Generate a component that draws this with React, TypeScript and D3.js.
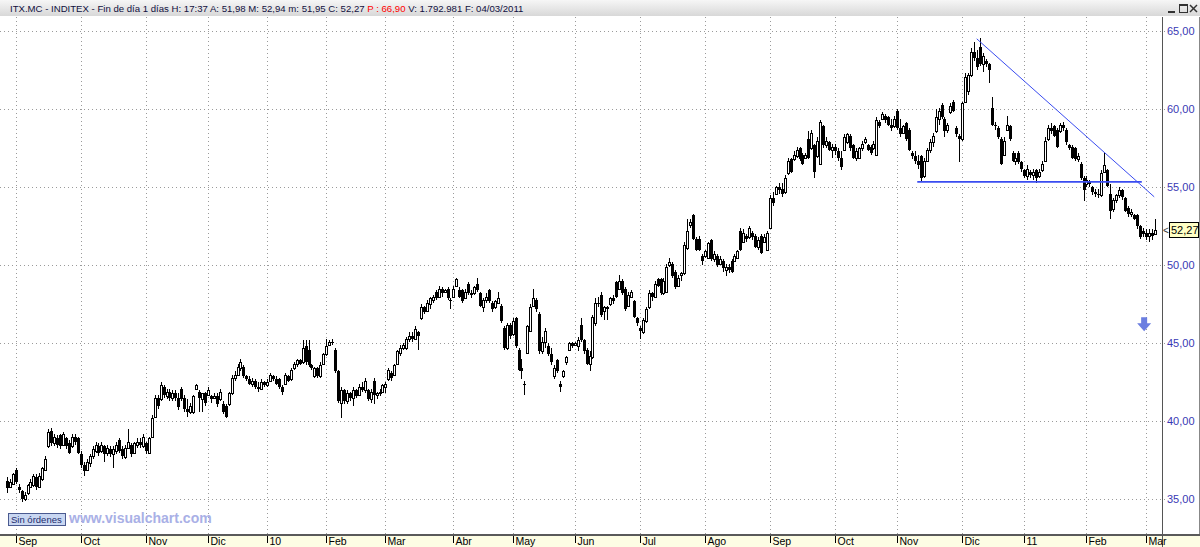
import React from "react";
import * as d3 from "d3";

// Daily bars [open, high, low, close], ITX.MC late Aug 2009 – 4 Mar 2011
const BARS: [number, number, number, number][] = [
  [36.2,36.4,35.4,35.7],[35.8,36.3,35.7,36.1],[36.0,36.7,35.9,36.6],[36.9,37.0,36.0,36.1],[35.8,36.0,35.4,35.6],
  [35.5,35.6,34.8,35.0],[35.0,35.5,34.9,35.3],[35.4,36.0,35.3,35.9],[35.8,36.3,35.7,36.1],[35.9,36.6,35.8,36.5],
  [36.4,36.6,35.6,35.8],[35.8,36.7,35.7,36.5],[36.3,37.1,36.2,37.0],[36.9,37.8,36.8,37.6],[38.4,39.5,38.3,39.3],
  [39.4,39.6,38.4,38.6],[38.6,39.2,38.4,39.0],[38.9,39.1,38.3,38.5],[39.1,39.2,38.2,38.4],[38.5,39.3,38.4,39.2],
  [38.9,39.0,38.2,38.4],[38.6,38.8,37.9,38.0],[38.4,39.2,38.3,39.0],[39.0,39.2,38.5,38.7],[38.9,39.0,37.9,38.0],
  [37.9,38.1,37.0,37.2],[37.2,37.4,36.5,36.8],[36.9,37.6,36.8,37.4],[37.3,37.9,37.1,37.8],[37.8,38.4,37.6,38.2],
  [38.1,38.7,38.0,38.5],[38.4,38.6,37.8,38.0],[38.1,38.7,38.0,38.5],[38.4,38.5,37.4,37.9],[38.0,38.5,37.8,38.3],
  [38.2,38.4,37.7,37.9],[37.9,38.4,37.0,38.2],[38.1,38.7,37.9,38.5],[38.8,38.9,38.0,38.1],[38.2,38.4,37.6,37.8],
  [37.7,38.5,37.6,38.3],[38.3,39.5,38.2,38.7],[38.5,38.6,37.7,37.9],[38.0,38.7,37.9,38.6],[38.5,38.9,38.3,38.7],
  [38.7,38.9,38.3,38.5],[38.4,39.2,38.3,39.0],[38.6,38.7,37.9,38.1],[38.0,39.0,37.9,38.9],[39.0,40.4,38.9,40.2],
  [40.3,41.7,40.2,41.5],[41.5,41.7,40.8,41.0],[41.4,42.5,41.3,42.3],[42.2,42.3,41.5,41.7],[41.6,42.1,41.4,41.9],
  [41.9,42.1,41.3,41.5],[41.5,42.0,41.3,41.8],[41.8,42.0,41.3,41.5],[41.5,41.8,40.7,40.9],[42.1,42.2,41.3,41.4],
  [41.5,41.7,40.6,40.8],[40.8,41.4,40.3,40.6],[40.6,41.2,40.5,41.0],[40.6,41.7,40.5,41.6],[42.1,42.4,42.0,42.3],
  [41.9,42.0,40.6,41.5],[41.4,41.8,40.6,41.8],[41.8,41.9,41.0,41.2],[41.7,42.2,41.6,42.0],[41.6,41.7,41.2,41.4],
  [41.5,41.8,41.4,41.6],[41.6,41.8,40.9,41.1],[41.4,42.1,41.3,41.9],[41.1,41.3,40.5,40.6],[41.0,41.1,40.2,40.3],
  [41.1,41.9,41.0,41.8],[41.8,43.0,41.7,42.8],[42.8,43.2,42.6,43.0],[43.0,43.7,42.9,43.5],[43.4,44.0,43.2,43.8],
  [43.5,43.6,42.8,42.9],[42.9,43.0,42.6,42.7],[42.7,42.9,42.3,42.4],[42.4,42.8,42.2,42.6],[42.6,42.7,42.1,42.2],
  [42.2,42.5,41.9,42.1],[42.1,42.7,42.0,42.5],[42.5,42.6,42.2,42.3],[42.3,42.7,42.2,42.5],[42.6,43.1,42.5,43.0],
  [42.9,43.0,42.6,42.7],[42.7,42.9,42.3,42.4],[42.7,42.8,42.1,42.2],[42.2,42.3,41.7,41.9],[42.4,43.1,42.3,43.0],
  [42.9,43.0,42.5,42.6],[42.7,43.4,42.6,43.3],[43.4,43.8,43.3,43.7],[43.7,44.0,43.5,43.9],[43.9,44.0,43.6,43.7],
  [43.8,45.2,43.7,44.7],[44.8,45.2,43.6,43.8],[44.6,45.2,43.5,43.6],[43.6,43.7,43.3,43.4],[42.9,43.5,42.8,43.4],
  [43.4,43.5,42.8,42.9],[42.9,43.8,42.8,43.6],[43.7,44.4,43.6,44.3],[44.3,45.3,44.2,44.8],[44.9,45.2,44.8,45.1],
  [45.1,45.3,44.9,45.0],[44.6,44.7,43.1,43.2],[43.2,43.3,41.2,41.3],[41.2,42.2,40.2,42.0],[42.0,42.1,41.1,41.3],
  [41.3,42.0,41.1,41.8],[41.8,41.9,41.3,41.5],[41.5,42.2,41.0,42.0],[42.0,42.1,41.5,41.6],[41.7,42.4,41.6,42.2],
  [42.2,42.5,41.9,42.0],[42.0,42.8,41.8,42.6],[42.0,42.1,41.3,41.4],[41.4,42.1,41.2,41.9],[42.6,42.8,41.1,41.7],
  [41.7,41.9,41.4,41.8],[41.8,42.1,41.6,41.9],[41.9,42.4,41.9,42.3],[42.2,42.5,41.8,42.4],[42.7,43.4,42.6,43.3],
  [43.1,43.2,42.6,42.8],[43.0,43.7,42.9,43.6],[43.7,44.6,43.6,44.5],[44.4,44.9,44.2,44.7],[44.7,45.0,44.6,44.9],
  [44.7,45.4,44.6,45.3],[45.3,45.7,45.1,45.5],[45.5,45.7,45.1,45.3],[45.3,46.1,45.2,45.9],[45.7,45.8,44.6,45.5],
  [46.6,47.5,46.5,47.3],[47.3,47.4,46.9,47.0],[47.1,47.8,47.0,47.6],[47.5,48.0,47.2,47.9],[47.8,48.1,47.6,48.0],
  [48.3,48.4,47.8,47.9],[48.0,48.7,47.9,48.5],[48.5,48.6,48.0,48.2],[48.3,48.5,48.2,48.4],[48.5,48.6,47.8,47.9],
  [47.8,47.9,47.2,47.7],[48.0,48.7,47.9,48.5],[48.7,49.2,48.6,49.1],[48.4,48.6,47.9,48.0],[48.4,48.5,47.6,47.7],
  [47.9,48.5,47.9,48.3],[48.8,48.9,48.1,48.2],[48.2,48.4,47.9,48.1],[48.2,48.7,48.1,48.6],[48.8,49.2,48.3,48.4],
  [48.2,48.3,47.3,47.4],[47.3,47.9,47.0,47.8],[47.8,48.2,47.6,48.0],[48.4,48.5,47.6,47.7],[47.6,47.7,47.0,47.2],
  [47.3,47.8,47.2,47.7],[47.6,48.3,47.5,47.9],[47.4,47.5,46.3,46.4],[46.0,46.1,44.6,44.7],[44.7,46.3,44.6,46.2],
  [46.2,46.3,45.3,45.5],[45.6,46.6,45.5,46.4],[46.6,46.7,44.7,44.8],[44.6,44.7,43.2,43.3],[43.4,44.0,42.7,43.2],
  [42.4,42.6,41.7,42.3],[44.4,46.2,44.3,46.1],[45.8,47.5,45.7,47.3],[47.4,48.5,47.3,47.9],[47.8,47.9,47.0,47.2],
  [46.9,47.0,44.3,44.5],[44.5,45.4,44.3,45.1],[45.1,46.0,44.7,45.8],[44.8,45.0,44.2,44.3],[44.3,44.7,43.6,43.8],
  [42.9,43.6,42.7,43.4],[43.9,44.0,43.1,43.2],[42.4,42.6,41.9,42.2],[42.9,43.3,42.8,43.2],[43.8,44.2,43.6,44.1],
  [44.6,45.1,44.5,45.0],[45.0,45.1,44.7,44.8],[44.9,45.1,44.8,45.0],[44.8,45.4,44.5,45.2],[46.2,46.6,45.1,45.2],
  [45.2,45.3,44.3,44.5],[44.6,44.7,43.6,43.7],[43.7,44.5,43.2,44.2],[44.1,46.8,44.0,46.7],[46.3,47.9,46.1,47.6],
  [47.6,48.0,47.3,47.5],[48.1,48.3,46.7,46.8],[47.1,47.4,46.5,47.3],[47.3,47.4,46.5,47.2],[47.5,48.0,47.4,47.9],
  [47.9,48.1,47.5,47.7],[48.9,49.0,47.9,48.0],[48.5,49.4,48.4,49.0],[49.0,49.1,48.1,48.2],[48.5,48.6,47.1,47.2],
  [47.4,48.3,47.3,48.1],[48.0,48.4,47.9,48.3],[47.7,47.8,46.6,46.7],[46.6,46.7,46.1,46.3],[46.0,46.1,45.3,45.8],
  [45.7,46.6,45.6,46.5],[46.4,47.3,46.3,47.2],[47.3,48.4,47.2,48.2],[48.2,48.3,47.7,48.0],[48.0,49.0,47.9,48.8],
  [49.1,49.2,48.6,48.7],[49.1,49.2,48.1,48.2],[48.2,49.2,48.1,49.0],[48.3,50.1,48.2,49.9],[50.0,50.5,49.9,50.2],
  [50.1,50.2,49.2,49.3],[49.6,49.7,48.5,48.6],[48.7,49.4,48.6,49.2],[49.4,49.6,49.0,49.5],[49.5,51.5,49.4,51.3],
  [51.1,53.0,51.0,52.2],[52.6,53.0,52.4,52.8],[53.2,53.3,51.6,51.7],[51.7,51.8,50.9,51.0],[51.7,51.9,50.9,51.0],
  [50.6,50.7,50.0,50.3],[50.6,51.0,50.5,50.9],[50.5,51.5,50.4,51.4],[51.6,51.7,50.3,50.4],[50.4,50.9,50.2,50.7],
  [50.6,50.7,49.9,50.0],[50.1,50.6,50.0,50.4],[50.3,50.4,49.6,49.8],[49.7,50.1,49.3,49.9],[49.9,50.1,49.5,49.7],
  [50.3,50.4,49.5,49.6],[50.3,50.7,50.2,50.6],[50.5,51.0,50.4,50.9],[52.2,52.4,50.9,51.0],[51.5,52.3,51.4,52.1],
  [51.9,52.0,51.5,51.7],[51.8,52.5,51.7,52.4],[52.1,52.2,51.6,51.8],[51.9,52.0,51.1,51.2],[51.2,51.8,51.0,51.6],
  [51.9,52.0,50.7,50.8],[51.5,52.0,51.4,51.8],[51.0,52.2,50.9,52.1],[52.4,54.5,52.3,54.3],[54.3,54.7,53.8,54.0],
  [54.6,55.1,54.5,55.0],[55.0,55.3,54.6,54.8],[54.9,55.3,54.4,54.6],[54.7,55.8,54.6,55.6],[55.9,56.9,55.8,56.7],
  [56.8,56.9,55.9,56.0],[56.8,57.3,56.7,57.1],[57.0,57.6,56.9,57.4],[57.5,57.6,56.7,56.8],[57.1,57.2,56.4,56.5],
  [56.9,57.2,56.8,57.1],[58.1,58.6,56.8,56.9],[57.5,58.7,57.4,58.5],[57.7,57.8,55.6,56.0],[57.0,58.2,56.9,58.0],
  [56.5,59.3,56.4,59.2],[58.9,59.0,57.5,57.7],[57.7,58.2,57.5,58.0],[57.9,58.0,57.3,57.4],[57.4,57.8,56.9,57.6],
  [57.6,57.8,57.1,57.3],[57.3,57.5,56.7,56.9],[56.9,57.3,56.1,56.3],[57.4,58.4,57.3,58.2],[57.9,58.5,57.8,58.4],
  [58.3,58.4,57.3,57.5],[57.7,57.8,56.8,56.9],[56.9,57.5,56.7,57.3],[56.9,57.6,56.8,57.5],[57.5,58.0,57.3,57.8],
  [57.9,58.2,57.8,58.1],[57.7,57.8,57.3,57.4],[57.6,57.7,57.1,57.2],[57.5,58.0,57.4,57.8],[57.1,59.5,57.0,59.3],
  [59.2,59.3,58.8,58.9],[59.4,59.8,59.3,59.7],[59.6,59.7,59.1,59.3],[59.5,59.6,58.9,59.0],[59.0,59.4,58.6,58.8],
  [58.9,59.6,58.8,59.4],[59.9,60.0,58.7,58.8],[58.8,59.4,58.2,58.4],[58.5,59.0,58.4,58.9],[59.1,59.2,58.0,58.1],
  [58.7,58.8,57.3,57.4],[57.2,57.3,56.8,57.0],[57.0,57.3,56.5,56.7],[56.7,57.1,56.2,56.4],[57.0,57.1,55.4,55.6],
  [55.7,56.9,55.6,56.7],[56.7,57.5,56.6,57.4],[57.4,58.1,57.2,57.9],[57.9,58.5,57.6,58.3],[58.6,60.0,58.5,59.5],
  [59.4,60.1,59.0,59.9],[60.3,60.4,59.4,59.5],[59.4,59.5,58.2,58.6],[58.7,59.1,58.5,59.0],[59.8,60.4,59.7,60.2],
  [60.5,60.6,59.8,59.9],[58.8,58.9,58.2,58.4],[58.3,58.4,56.6,58.1],[58.1,60.5,58.0,60.4],[60.5,62.3,60.4,62.1],
  [61.2,62.3,60.9,62.2],[62.2,63.9,62.1,63.7],[63.7,64.3,63.1,63.3],[63.3,63.8,62.5,62.7],[64.0,64.6,62.8,62.9],
  [62.9,63.6,62.4,63.4],[63.1,63.2,62.7,62.9],[62.9,63.0,61.7,62.5],[60.1,60.8,58.9,59.0],[59.0,59.2,58.7,58.9],
  [58.8,58.9,58.1,58.2],[58.1,58.2,56.4,56.5],[57.1,58.2,57.0,58.0],[58.7,59.6,58.6,59.0],[58.9,59.0,58.0,58.1],
  [57.2,57.3,56.6,56.7],[56.7,57.2,56.4,56.9],[57.2,57.3,56.5,56.6],[56.6,56.7,56.0,56.2],[56.1,56.2,55.6,55.7],
  [55.7,56.4,55.5,56.2],[56.0,56.1,55.6,55.8],[55.8,56.2,55.5,56.0],[56.1,56.2,55.3,55.6],[55.7,56.2,55.6,56.0],
  [56.1,56.7,56.0,56.5],[56.7,58.2,56.6,58.0],[58.1,59.0,58.0,58.8],[58.8,59.1,58.4,58.6],[58.9,59.0,58.2,58.3],
  [58.7,58.8,57.5,57.6],[58.6,59.1,58.5,59.0],[59.0,59.2,58.6,58.8],[58.7,58.8,57.7,57.9],[57.7,57.8,57.4,57.5],
  [57.6,57.7,56.8,56.9],[57.5,57.6,56.7,56.8],[56.8,57.2,56.6,57.0],[56.5,56.6,55.5,55.6],[55.6,55.7,54.1,54.8],
  [55.2,55.7,55.0,55.5],[55.4,55.5,55.0,55.2],[55.0,55.1,54.5,54.7],[54.7,54.9,54.4,54.6],[54.6,54.9,54.3,54.5],
  [54.5,56.1,54.4,55.9],[56.0,57.2,55.9,56.4],[56.1,56.2,55.0,55.1],[54.6,55.2,53.0,53.5],[53.6,54.3,53.4,54.2],
  [54.2,54.6,54.0,54.5],[54.5,55.0,54.3,54.8],[54.8,54.9,54.2,54.4],[54.3,54.4,53.4,53.5],[53.7,53.8,53.1,53.3],
  [53.3,53.6,53.1,53.4],[53.2,53.3,52.9,53.0],[53.2,53.3,52.3,52.5],[52.5,52.6,51.7,51.8],[52.2,52.4,51.8,52.0],
  [52.1,52.3,51.6,51.8],[51.9,52.3,51.5,52.1],[52.1,52.3,51.6,51.9],[51.98,52.94,51.95,52.27],
];

// Bars before the first month label (late August 2009)
const LEAD_BARS = 3;
const MONTH_LABELS = ["Sep","Oct","Nov","Dic","10","Feb","Mar","Abr","May","Jun","Jul","Ago","Sep","Oct","Nov","Dic","11","Feb","Mar"];
const MONTH_BARS = [22,22,21,20,20,20,23,20,21,22,22,22,22,21,22,21,21,20,4];
const PRICE_TICKS = [35, 40, 45, 50, 55, 60, 65];

// Drawn lines: [bar index, price]
const TREND_LINE: [number, number][] = [[327.9, 64.52], [387.9, 54.39]];
const SUPPORT_LINE: [number, number][] = [[307.8, 55.35], [383.7, 55.35]];
const ARROW_AT: [number, number] = [384.5, 46.1];

const LAST_PRICE = 52.27;
const HEADER_TEXT = [
  "ITX.MC - INDITEX - Fin de día 1 días H: 17:37 A: 51,98 M: 52,94 m: 51,95 C: 52,27 ",
  "P : 66,90",
  " V: 1.792.981 F: 04/03/2011",
];
const HEADER_COLORS = ["#101040", "#ff0000", "#101040"];

const fmt = (v: number) => v.toFixed(2).replace(".", ",");

export default function App() {
  const W = 1200, H = 547;
  const plotRight = 1162;
  const plotTop = 17;
  const axisY = 535;
  const x = d3.scaleLinear().domain([0, BARS.length - 1]).range([6.8, 1154.5]);
  const y = d3.scaleLinear().domain([35, 65]).range([499.3, 31.3]);

  const monthStarts: number[] = [];
  let acc = LEAD_BARS;
  MONTH_BARS.forEach((n) => { monthStarts.push(acc); acc += n; });

  const font = "'Liberation Sans', Arial, sans-serif";
  const line = d3.line<[number, number]>().x((d) => x(d[0])).y((d) => y(d[1]));

  const ax = x(ARROW_AT[0]);
  const ay = y(ARROW_AT[1]);

  return (
    <svg width={W} height={H} style={{ position: "fixed", left: 0, top: 0, background: "#fff" }} fontFamily={font}>
      <defs>
        <linearGradient id="hdr" x1="0" y1="0" x2="0" y2="1">
          <stop offset="0" stopColor="#f6f6f6" />
          <stop offset="1" stopColor="#d8d8d8" />
        </linearGradient>
      </defs>
      <rect x={0} y={0} width={W} height={H} fill="#ffffff" />
      {/* header */}
      <rect x={0} y={0} width={W} height={16} fill="url(#hdr)" />
      <text x={10} y={12} fontSize={9.6} style={{ whiteSpace: "pre" }}>
        {HEADER_TEXT.map((t, i) => (
          <tspan key={i} fill={HEADER_COLORS[i]}>{t}</tspan>
        ))}
      </text>
      {/* window buttons */}
      <g stroke="#333" strokeWidth={1} fill="none" shapeRendering="crispEdges">
        <line x1={1168} y1={12} x2={1175} y2={12} strokeWidth={2} />
        <rect x={1179.5} y={4.5} width={8} height={8} />
        <line x1={1179.5} y1={5.5} x2={1187.5} y2={5.5} />
      </g>
      <g stroke="#333" strokeWidth={1.5} fill="none">
        <line x1={1190} y1={5} x2={1197} y2={12} />
        <line x1={1197} y1={5} x2={1190} y2={12} />
      </g>

      {/* grid */}
      <g stroke="#9a9a9a" strokeWidth={1} strokeDasharray="1,3" shapeRendering="crispEdges">
        {PRICE_TICKS.map((v) => (
          <line key={"h" + v} x1={0} x2={plotRight + 6} y1={Math.round(y(v)) + 0.5} y2={Math.round(y(v)) + 0.5} />
        ))}
        {monthStarts.map((b, i) => (
          <line key={"v" + i} x1={Math.round(x(b)) + 0.5} x2={Math.round(x(b)) + 0.5} y1={plotTop} y2={axisY} />
        ))}
      </g>

      {/* candles */}
      <g shapeRendering="crispEdges">
        {BARS.map(([o, h, l, c], i) => {
          const cx = Math.round(x(i));
          const top = Math.round(y(Math.max(o, c)));
          const bot = Math.round(y(Math.min(o, c)));
          const up = c >= o;
          return (
            <g key={i}>
              <line x1={cx + 0.5} x2={cx + 0.5} y1={y(h)} y2={y(l)} stroke="#000" strokeWidth={1} />
              {up ? (
                <rect x={cx - 0.5} y={top + 0.5} width={2} height={Math.max(1, bot - top)} fill="#fff" stroke="#000" strokeWidth={1} />
              ) : (
                <rect x={cx - 1} y={top} width={3} height={Math.max(1, bot - top)} fill="#000" />
              )}
            </g>
          );
        })}
      </g>

      {/* drawn lines */}
      <path d={line(TREND_LINE) || ""} stroke="#3a4cf0" strokeWidth={1} fill="none" />
      <path d={line(SUPPORT_LINE) || ""} stroke="#3a4cf0" strokeWidth={1.6} fill="none" />

      {/* arrow */}
      <path
        d={`M${ax - 3},${ay - 9} L${ax + 3},${ay - 9} L${ax + 3},${ay - 3} L${ax + 7},${ay - 3} L${ax},${ay + 5} L${ax - 7},${ay - 3} L${ax - 3},${ay - 3} Z`}
        fill="#6b7ee0"
      />

      {/* footer labels */}
      <rect x={8.5} y={513.5} width={57} height={12} fill="#c9d7f2" stroke="#4a5a90" strokeWidth={1} />
      <text x={11} y={523} fontSize={9.5} fill="#1c2c6c">Sin órdenes</text>
      <text x={69} y={523} fontSize={14} fontWeight="bold" fill="#a9b0e6">www.visualchart.com</text>

      {/* right axis panel */}
      <line x1={plotRight + 0.5} x2={plotRight + 0.5} y1={plotTop} y2={axisY} stroke="#555" strokeWidth={1} shapeRendering="crispEdges" />
      <line x1={W - 0.5} x2={W - 0.5} y1={plotTop} y2={H} stroke="#888" strokeWidth={1} shapeRendering="crispEdges" />
      {PRICE_TICKS.map((v) => (
        <text key={"t" + v} x={1167} y={y(v) + 4} fontSize={11} fill="#3838b4">{fmt(v)}</text>
      ))}
      <text x={1163} y={y(LAST_PRICE) + 4} fontSize={10} fill="#333">&lt;</text>
      <rect x={1169.5} y={Math.round(y(LAST_PRICE)) - 7.5} width={29} height={15} fill="#ffffc4" stroke="#000" strokeWidth={1} shapeRendering="crispEdges" />
      <text x={1171} y={y(LAST_PRICE) + 4} fontSize={11} fill="#000">{fmt(LAST_PRICE)}</text>

      {/* bottom axis */}
      <rect x={0} y={axisY + 1} width={W} height={H - axisY - 1} fill="#fdfde4" />
      <line x1={0} x2={W} y1={axisY} y2={axisY} stroke="#5a5a5a" strokeWidth={2} shapeRendering="crispEdges" />
      <line x1={plotRight + 0.5} x2={plotRight + 0.5} y1={axisY} y2={H} stroke="#555" strokeWidth={1} shapeRendering="crispEdges" />
      {monthStarts.map((b, i) => {
        const tx = Math.round(x(b)) + 0.5;
        return (
          <g key={"m" + i}>
            <line x1={tx} x2={tx} y1={axisY + 1} y2={axisY + 8} stroke="#000" strokeWidth={1} shapeRendering="crispEdges" />
            <text x={tx + 2} y={545} fontSize={10.5} fill="#000">{MONTH_LABELS[i]}</text>
          </g>
        );
      })}
    </svg>
  );
}
